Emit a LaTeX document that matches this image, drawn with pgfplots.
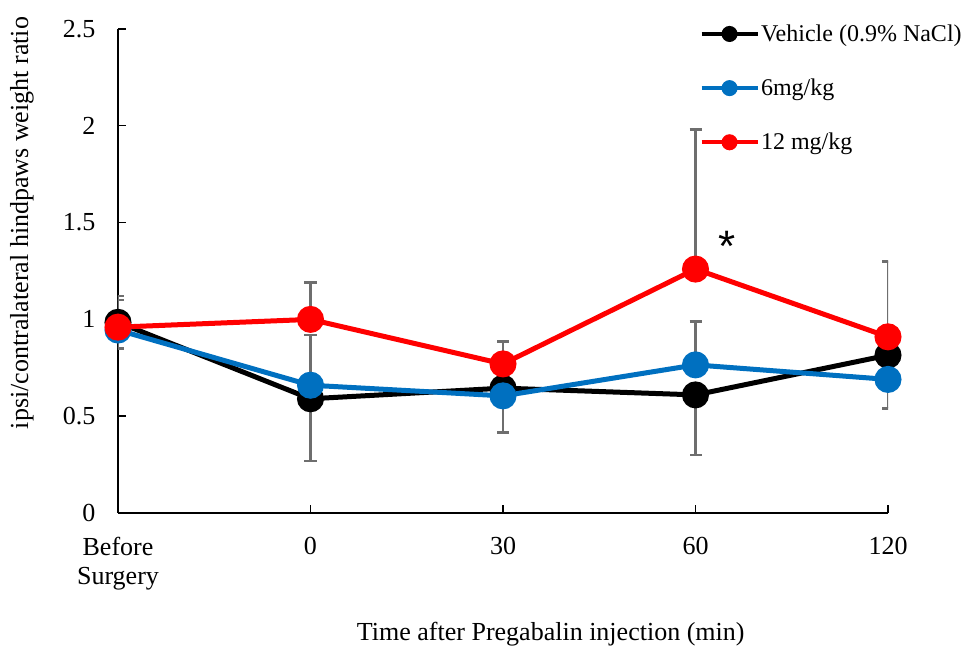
\documentclass[border=0pt]{standalone}
\usepackage{fontspec}
\setmainfont{Liberation Serif}
\newfontfamily\arialfont{Liberation Sans}
\usepackage{pgfplots}
\usepackage{pgfplotstable}
\pgfplotsset{compat=1.18}

\definecolor{lowblue}{RGB}{0,112,192}
\definecolor{highred}{RGB}{255,0,0}
\definecolor{errgray}{RGB}{110,110,110}

% x: 0 = before surgery, 1..4 = 0, 30, 60, 120 min
\pgfplotstableread{
x  y      ep     em
0  0.985  0.135  0.135
1  0.59   0.33   0.32
2  0.645  0      0
3  0.61   0      0.31
4  0.815  0      0
}\vehicle

\pgfplotstableread{
x  y      ep     em
0  0.945  0      0
1  0.66   0      0
2  0.605  0      0.19
3  0.765  0.225  0
4  0.69   0      0.15
}\lowdose

\pgfplotstableread{
x  y      ep     em
0  0.96   0.14   0
1  1.00   0.19   0
2  0.77   0.115  0
3  1.26   0.72   0
4  0.91   0.39   0
}\highdose

\pgfplotsset{
    errs/.style={
        error bars/.cd,
        y dir=both, y explicit,
        error bar style={line width=2.4pt, color=errgray, solid},
        error mark options={line width=2.4pt, color=errgray, mark size=6pt, rotate=90},
    },
}

\begin{document}
\begin{tikzpicture}
\useasboundingbox (-118pt,-137pt) rectangle (851pt,513pt);
\begin{axis}[
    at={(0,0)}, anchor=south west,
    scale only axis,
    width=770pt, height=484pt,
    xmin=0, xmax=4, ymin=0, ymax=2.5,
    axis x line=bottom, axis y line=left,
    axis line style={line width=1.6pt, -},
    tick align=inside,
    major tick length=8pt,
    every tick/.style={line width=1.4pt, black},
    xtick={0,1,2,3,4},
    xticklabels={{Before\\Surgery},0,30,60,120},
    ytick={0,0.5,1,1.5,2,2.5},
    yticklabels={0,0.5,1,1.5,2,2.5},
    tick label style={font=\fontsize{26}{29}\selectfont},
    xticklabel style={align=center, yshift=-21pt},
    yticklabel style={xshift=-19pt},
    xlabel={Time after Pregabalin injection (min)},
    ylabel={ipsi/contralateral hindpaws weight ratio},
    label style={font=\fontsize{26}{30}\selectfont},
    xlabel style={at={(axis description cs:0.562,-0.25)}, anchor=center},
    ylabel style={at={(axis description cs:-0.1247,0.599)}, anchor=center},
    legend style={draw=none, fill=none, at={(rel axis cs:0.755,1.012)},
        anchor=north west, inner sep=0pt, row sep=33pt,
        font=\fontsize{24}{27}\selectfont,
        nodes={inner sep=1.5pt}, cells={anchor=west}},
    legend image code/.code={%
        \draw[#1, mark size=6pt, line width=4pt, mark repeat=2, mark phase=2]
        plot coordinates {(0pt,0pt) (28pt,0pt) (56pt,0pt)};},
]
\addplot[black, line width=5pt, mark=*, mark size=11pt,
    mark options={fill=black, draw=black}, errs]
    table[x=x, y=y, y error plus=ep, y error minus=em] {\vehicle};
\addlegendentry{Vehicle (0.9\% NaCl)}
\addplot[lowblue, line width=5pt, mark=*, mark size=11pt,
    mark options={fill=lowblue, draw=lowblue}, errs]
    table[x=x, y=y, y error plus=ep, y error minus=em] {\lowdose};
\addlegendentry{6mg/kg}
\addplot[highred, line width=5pt, mark=*, mark size=11pt,
    mark options={fill=highred, draw=highred}, errs]
    table[x=x, y=y, y error plus=ep, y error minus=em] {\highdose};
\addlegendentry{12 mg/kg}
\node[font=\arialfont\fontsize{44}{44}\selectfont, inner sep=0pt, anchor=north]
    at (axis cs:3.164,1.456) {*};
\end{axis}
\end{tikzpicture}
\end{document}
